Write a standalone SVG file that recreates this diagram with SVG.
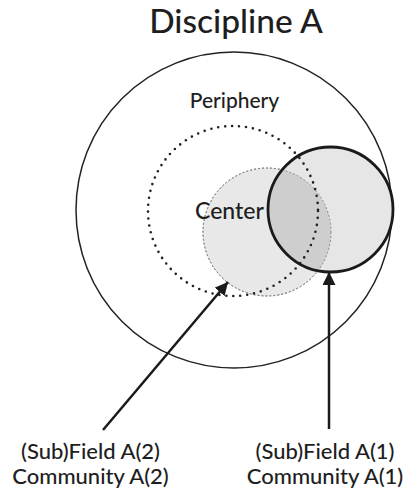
<svg xmlns="http://www.w3.org/2000/svg" width="405" height="492" viewBox="0 0 405 492">
<style>
text{font-family:Lato,"Open Sans","Liberation Sans",sans-serif;fill:#1e1e1e;text-anchor:middle;font-weight:500}
.big{font-size:33.5px}
.lbl{font-size:22px}
.conn{stroke:#1a1a1a;stroke-width:2.5;fill:none}
</style>
<defs>
<marker id="ah" viewBox="0 0 10 10" refX="10" refY="5" markerWidth="5.2" markerHeight="5.2" orient="auto" markerUnits="strokeWidth">
<path d="M0,0 L10,5 L0,10 z" fill="#1a1a1a"/>
</marker>
<clipPath id="clipCenter"><circle cx="267" cy="232" r="64"/></clipPath>
</defs>
<rect width="405" height="492" fill="#fff"/>
<g id="title"><text class="big" x="236" y="33">Discipline A</text></g>
<g id="discipline">
<circle cx="234" cy="210" r="158" fill="none" stroke="#222" stroke-width="1.5"/>
<text class="lbl" x="234.5" y="108" style="font-size:21px">Periphery</text>
</g>
<g id="center">
<circle cx="267" cy="232" r="64" fill="#e8e8e8" stroke="#888" stroke-width="1" stroke-dasharray="2 2"/>
</g>
<g id="subfield1">
<circle cx="330.5" cy="209.5" r="62.5" fill="#e6e6e6"/>
<circle cx="330.5" cy="209.5" r="62.5" fill="#cecece" clip-path="url(#clipCenter)"/>
<circle cx="267" cy="232" r="64" fill="none" stroke="#888" stroke-width="1" stroke-dasharray="2 2"/>
</g>
<g id="periphery">
<circle cx="233" cy="211" r="85" fill="none" stroke="#222" stroke-width="2.6" stroke-linecap="round" stroke-dasharray="0 7"/>
</g>
<g id="subfield1-outline">
<circle cx="330.5" cy="209.5" r="62.5" fill="none" stroke="#1a1a1a" stroke-width="2.8"/>
</g>
<g id="center-label"><text class="lbl" x="229.5" y="219" style="font-size:23px">Center</text></g>
<g id="connectors">
<line class="conn" x1="103" y1="430" x2="228" y2="282" marker-end="url(#ah)"/>
<line class="conn" x1="329" y1="429" x2="329" y2="272" marker-end="url(#ah)"/>
</g>
<g id="label2">
<text class="lbl" x="90.5" y="459">(Sub)Field A(2)</text>
<text class="lbl" x="90.5" y="484">Community A(2)</text>
</g>
<g id="label1">
<text class="lbl" x="325" y="459">(Sub)Field A(1)</text>
<text class="lbl" x="325" y="484">Community A(1)</text>
</g>
</svg>
